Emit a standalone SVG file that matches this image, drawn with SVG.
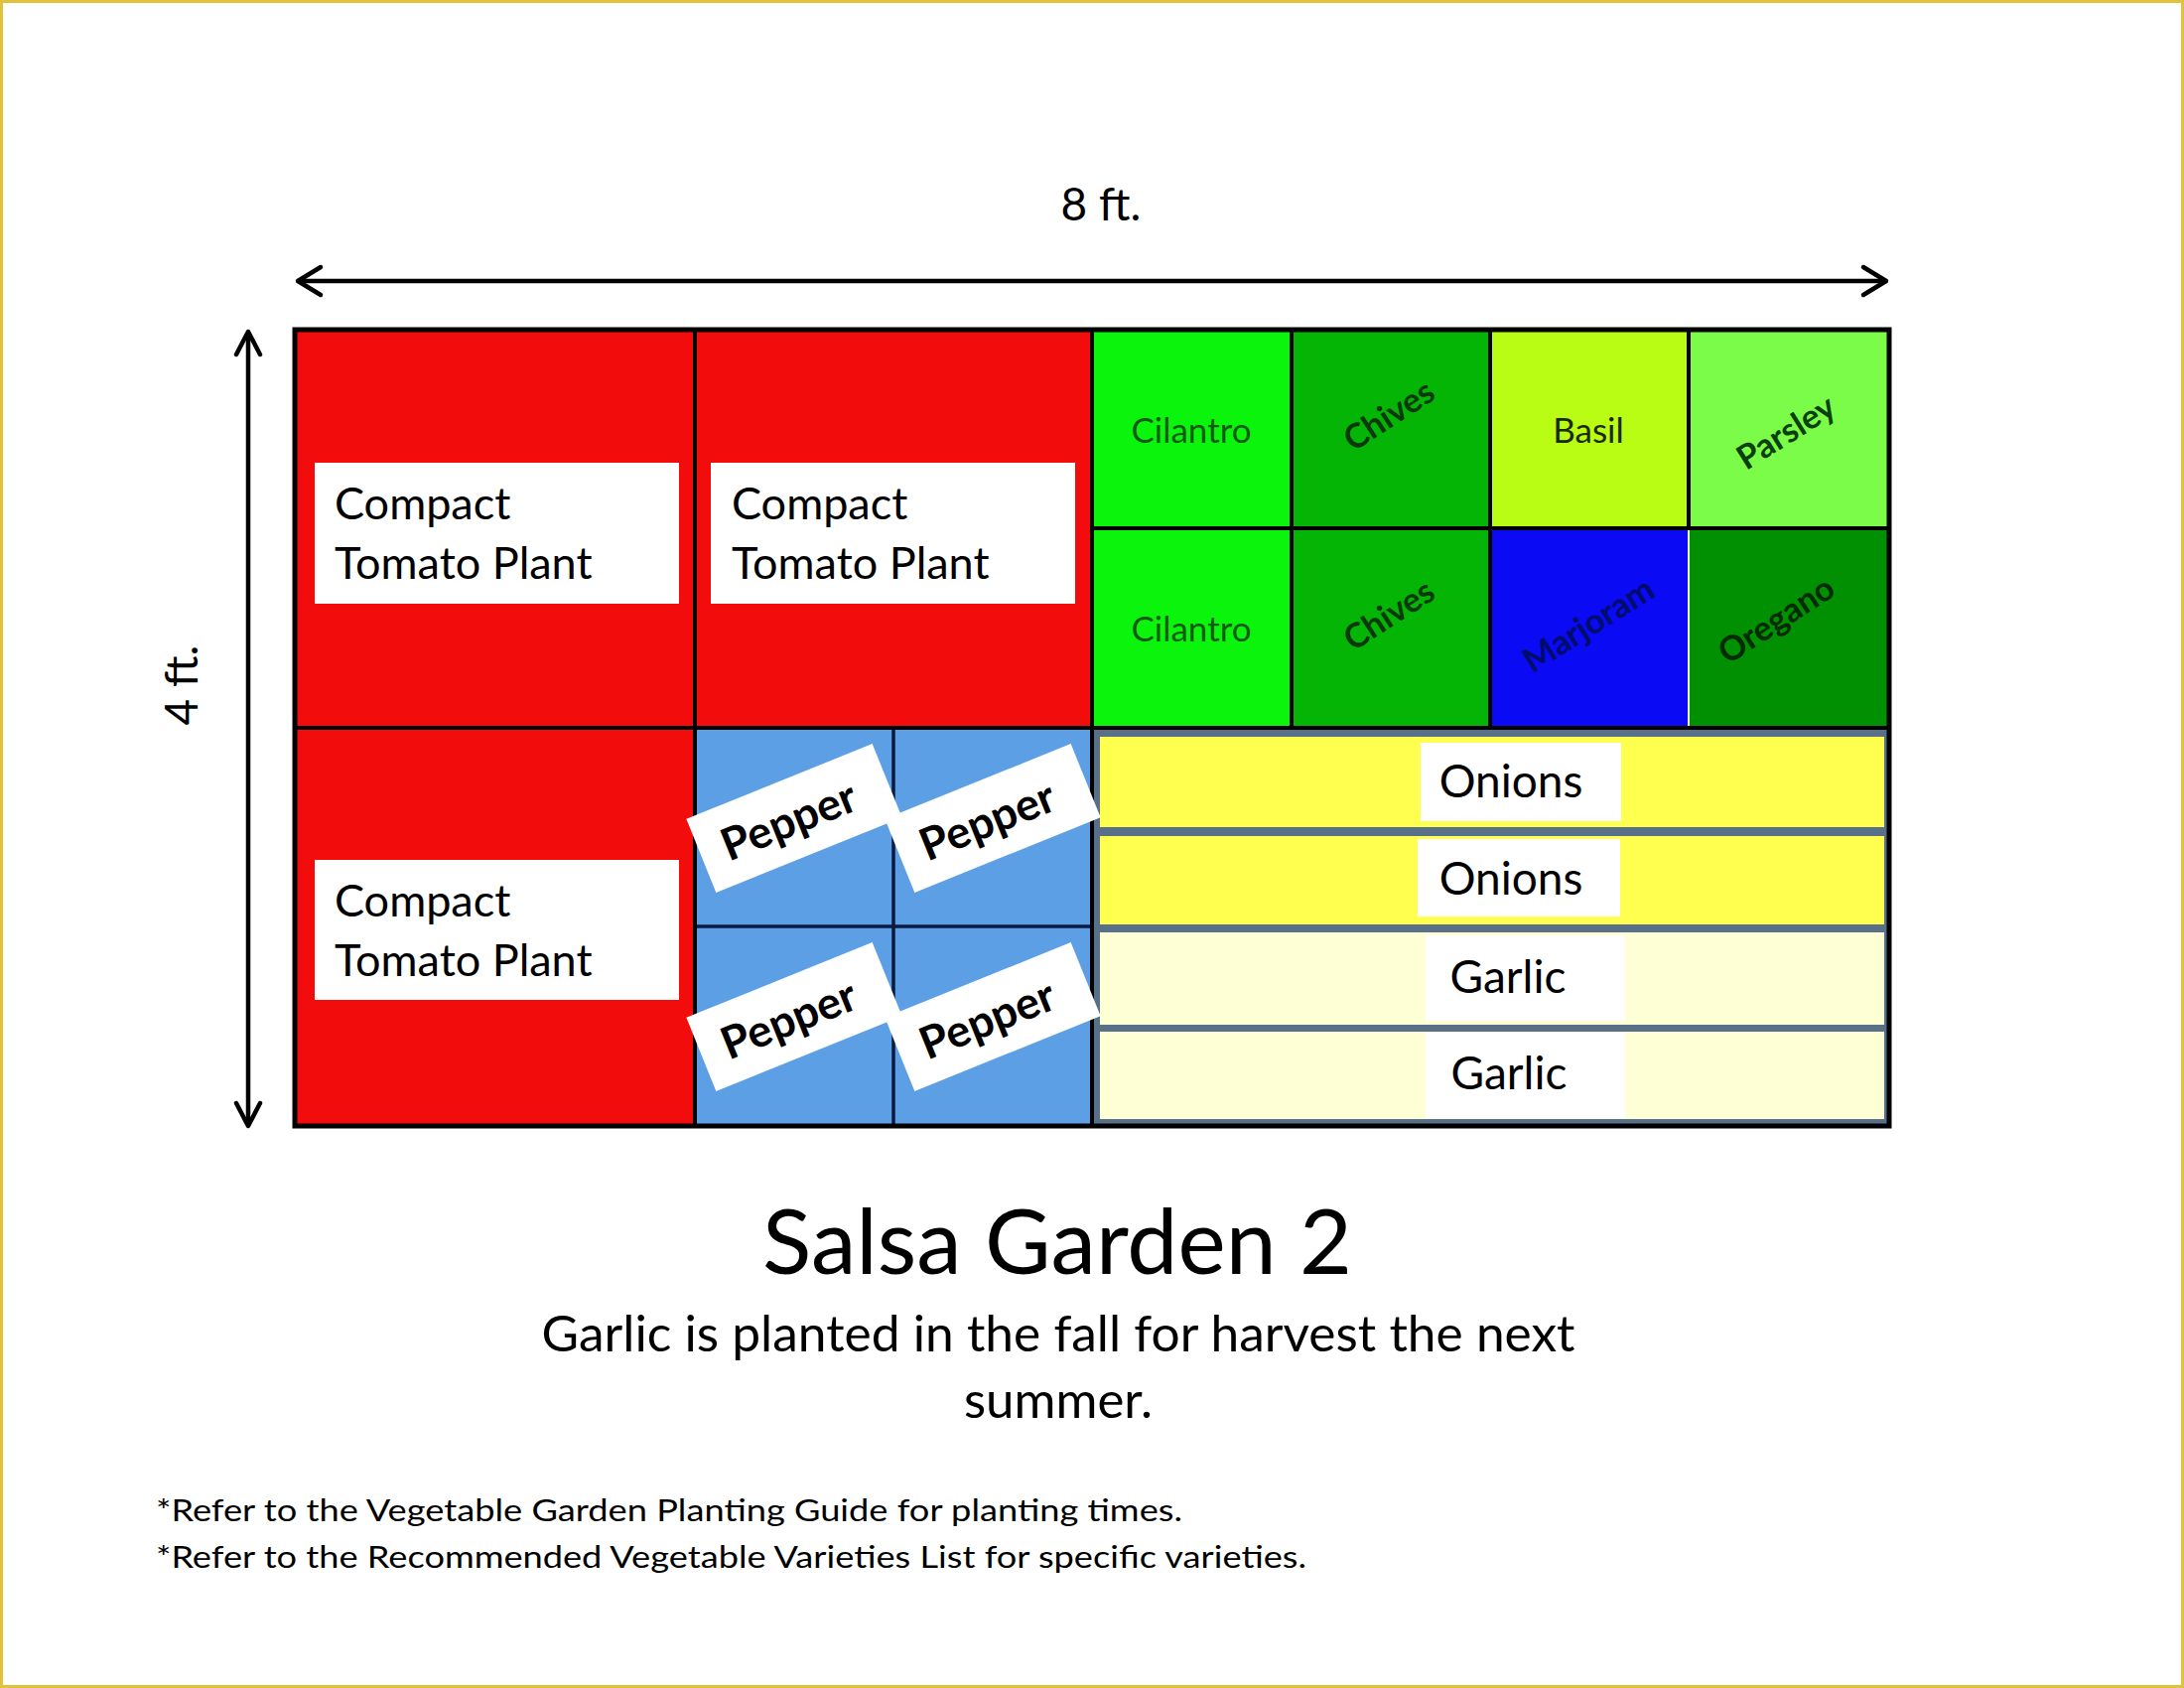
<svg xmlns="http://www.w3.org/2000/svg" width="2200" height="1700" viewBox="0 0 2200 1700">
<style>
  .t { font-family: Lato, "Open Sans", sans-serif; fill: #000; }
  .tomato { font-size: 45px; }
  .strip { font-size: 46px; text-anchor: middle; }
  .herb { font-size: 35px; text-anchor: middle; }
  .herbB { font-size: 34px; font-weight: bold; text-anchor: middle; }
  .pep { font-size: 45px; font-weight: bold; text-anchor: middle; }
  .dim { font-size: 46px; text-anchor: middle; }
  .arrow { stroke: #000; stroke-width: 4.5; fill: none; stroke-linecap: round; stroke-linejoin: round; }
  .lbl { fill: #ffffff; }
  .red { fill: #F20C0C; }
  .blue { fill: #5C9FE4; }
</style>
<rect x="0" y="0" width="2200" height="1700" fill="#ffffff"/>
<rect x="1.5" y="1.5" width="2197" height="1697" fill="none" stroke="#E2C23A" stroke-width="3"/>

<!-- dimension labels -->
<g id="dim-width">
  <text class="t dim" x="1109" y="222">8 ft.</text>
</g>
<g id="dim-height">
  <text class="t dim" transform="translate(199,690) rotate(-90)" x="0" y="0">4 ft.</text>
</g>

<!-- beds -->
<g id="tomato-1">
  <rect class="red" x="297" y="332" width="403" height="401"/>
  <rect class="lbl" x="317" y="466" width="367" height="142"/>
  <text class="t tomato" x="337" y="523">Compact</text>
  <text class="t tomato" x="337" y="583">Tomato Plant</text>
</g>
<g id="tomato-2">
  <rect class="red" x="700" y="332" width="400" height="401"/>
  <rect class="lbl" x="716" y="466" width="367" height="142"/>
  <text class="t tomato" x="737" y="523">Compact</text>
  <text class="t tomato" x="737" y="583">Tomato Plant</text>
</g>
<g id="tomato-3">
  <rect class="red" x="297" y="733" width="403" height="401"/>
  <rect class="lbl" x="317" y="866" width="367" height="141"/>
  <text class="t tomato" x="337" y="923">Compact</text>
  <text class="t tomato" x="337" y="983">Tomato Plant</text>
</g>

<g id="pepper-cells">
  <rect class="blue" x="700" y="733" width="400" height="401"/>
</g>

<g id="cilantro-1">
  <rect x="1100" y="332" width="201" height="200" fill="#0BF40B"/>
  <text class="t herb" x="1200" y="446" style="fill:#145A14">Cilantro</text>
</g>
<g id="cilantro-2">
  <rect x="1100" y="532" width="201" height="201" fill="#0BF40B"/>
  <text class="t herb" x="1200" y="646" style="fill:#145A14">Cilantro</text>
</g>
<g id="chives-1">
  <rect x="1301" y="332" width="200" height="200" fill="#05B505"/>
  <text class="t herbB" transform="translate(1399,418) rotate(-33)" x="0" y="12" style="fill:#0A380A">Chives</text>
</g>
<g id="chives-2">
  <rect x="1301" y="532" width="200" height="201" fill="#05B505"/>
  <text class="t herbB" transform="translate(1399,619) rotate(-33)" x="0" y="12" style="fill:#0A380A">Chives</text>
</g>
<g id="basil">
  <rect x="1501" y="332" width="200" height="200" fill="#B9FC14"/>
  <text class="t herb" x="1600" y="446" style="fill:#1A2A05">Basil</text>
</g>
<g id="parsley">
  <rect x="1701" y="332" width="202" height="200" fill="#7AFC48"/>
  <text class="t herbB" transform="translate(1799,435) rotate(-32)" x="0" y="12" style="fill:#0A400F">Parsley</text>
</g>
<g id="marjoram">
  <rect x="1501" y="532" width="200" height="201" fill="#0A0AF5"/>
  <text class="t herbB" transform="translate(1600,629) rotate(-32)" x="0" y="12" style="fill:#000C6A">Marjoram</text>
</g>
<g id="oregano">
  <rect x="1701" y="532" width="202" height="201" fill="#019001"/>
  <text class="t herbB" transform="translate(1789,624) rotate(-33)" x="0" y="12" style="fill:#002A00">Oregano</text>
</g>

<g id="strips-frame">
  <rect x="1100" y="733" width="803" height="401" fill="#587189"/>
</g>
<g id="onions-1">
  <rect x="1108" y="742" width="790" height="91" fill="#FFFF50"/>
  <rect class="lbl" x="1431" y="748" width="202" height="79"/>
  <text class="t strip" x="1522" y="803">Onions</text>
</g>
<g id="onions-2">
  <rect x="1108" y="842" width="790" height="89" fill="#FFFF50"/>
  <rect class="lbl" x="1428" y="845" width="204" height="78"/>
  <text class="t strip" x="1522" y="901">Onions</text>
</g>
<g id="garlic-1">
  <rect x="1108" y="939" width="790" height="93" fill="#FFFFD6"/>
  <rect class="lbl" x="1436" y="942" width="201" height="86"/>
  <text class="t strip" x="1519" y="1000">Garlic</text>
</g>
<g id="garlic-2">
  <rect x="1108" y="1039" width="790" height="88" fill="#FFFFD6"/>
  <rect class="lbl" x="1436" y="1040" width="201" height="87"/>
  <text class="t strip" x="1520" y="1097">Garlic</text>
</g>

<!-- grid lines -->
<g id="connectors">
  <g stroke="#0A1A40" stroke-width="3.5">
    <line x1="900" y1="733" x2="900" y2="1134"/>
    <line x1="700" y1="933" x2="1100" y2="933"/>
  </g>
  <g stroke="#000" stroke-width="4">
    <line x1="700" y1="332" x2="700" y2="1134"/>
    <line x1="1100" y1="332" x2="1100" y2="1134"/>
    <line x1="297" y1="733" x2="1903" y2="733"/>
    <line x1="1301" y1="332" x2="1301" y2="733"/>
    <line x1="1501" y1="332" x2="1501" y2="733"/>
    <line x1="1701" y1="332" x2="1701" y2="532"/>
    <line x1="1100" y1="532" x2="1903" y2="532"/>
  </g>
  <line x1="1701" y1="534" x2="1701" y2="731" stroke="#E8F0E8" stroke-width="2"/>
  <rect x="297" y="332" width="1606" height="802" fill="none" stroke="#000" stroke-width="5"/>

  <!-- dimension arrows -->
  <line class="arrow" x1="301" y1="283" x2="1899" y2="283"/>
  <polyline class="arrow" points="323,269 300,283 323,297"/>
  <polyline class="arrow" points="1877,269 1900,283 1877,297"/>
  <line class="arrow" x1="250" y1="336" x2="250" y2="1131"/>
  <polyline class="arrow" points="238,357 250,334 262,357"/>
  <polyline class="arrow" points="238,1111 250,1134 262,1111"/>
</g>

<!-- pepper labels -->
<g id="pepper-1" transform="translate(800,824) rotate(-22)">
  <rect class="lbl" x="-101" y="-40" width="202" height="80"/>
  <text class="t pep" x="-6" y="16">Pepper</text>
</g>
<g id="pepper-2" transform="translate(1000,824) rotate(-22)">
  <rect class="lbl" x="-101" y="-40" width="202" height="80"/>
  <text class="t pep" x="-6" y="16">Pepper</text>
</g>
<g id="pepper-3" transform="translate(800,1024) rotate(-22)">
  <rect class="lbl" x="-101" y="-40" width="202" height="80"/>
  <text class="t pep" x="-6" y="16">Pepper</text>
</g>
<g id="pepper-4" transform="translate(1000,1024) rotate(-22)">
  <rect class="lbl" x="-101" y="-40" width="202" height="80"/>
  <text class="t pep" x="-6" y="16">Pepper</text>
</g>

<!-- titles -->
<g id="title">
  <text class="t" x="1065" y="1283" font-size="92" text-anchor="middle" textLength="594" lengthAdjust="spacingAndGlyphs">Salsa Garden 2</text>
</g>
<g id="subtitle">
  <text class="t" x="1066" y="1361" font-size="51" text-anchor="middle" textLength="1041" lengthAdjust="spacingAndGlyphs">Garlic is planted in the fall for harvest the next</text>
  <text class="t" x="1066" y="1428" font-size="51" text-anchor="middle">summer.</text>
</g>
<g id="notes">
  <text class="t" x="157" y="1532" font-size="30" textLength="1034" lengthAdjust="spacingAndGlyphs">*Refer to the Vegetable Garden Planting Guide for planting times.</text>
  <text class="t" x="157" y="1579" font-size="30" textLength="1159" lengthAdjust="spacingAndGlyphs">*Refer to the Recommended Vegetable Varieties List for specific varieties.</text>
</g>
</svg>
